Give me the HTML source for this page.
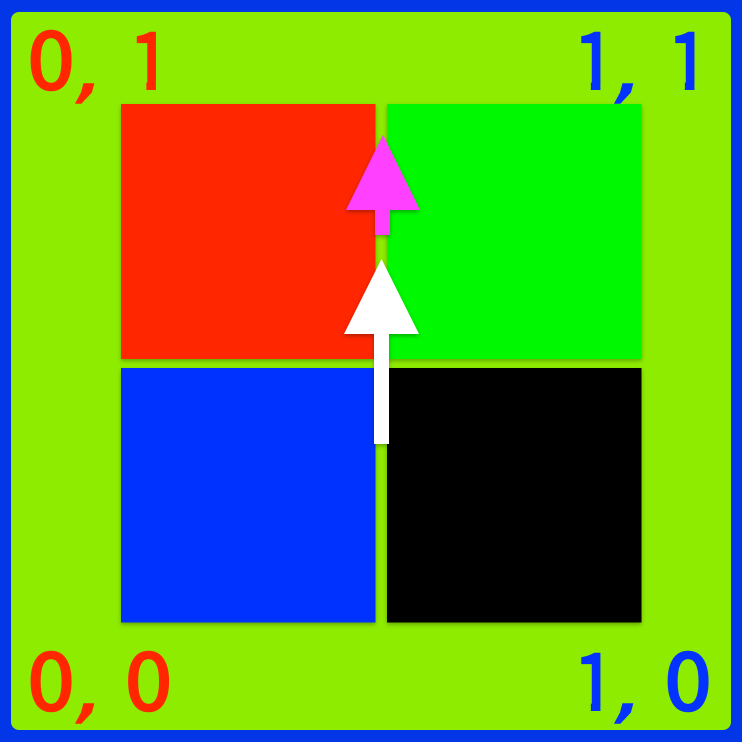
<!DOCTYPE html>
<html lang="en">
<head>
<meta charset="utf-8">
<title>Quadrant diagram</title>
<style>
html,body{margin:0;padding:0;width:742px;height:742px;overflow:hidden;background:#0336e6}
svg{display:block}
text{font-family:"Noto Sans CJK JP","Liberation Sans",sans-serif;font-size:80px;stroke-width:2.5px;stroke-linejoin:miter}
.comma{font-family:"DejaVu Sans",sans-serif;font-weight:bold;font-size:62px;stroke-width:0}
.red{fill:#ff2600;stroke:#ff2600}
.blue{fill:#0433ff;stroke:#0433ff}
</style>
</head>
<body>
<svg xmlns="http://www.w3.org/2000/svg" width="742" height="742" viewBox="0 0 742 742">
<defs>
<filter id="sh" x="-10%" y="-10%" width="120%" height="120%">
<feDropShadow dx="0" dy="2" stdDeviation="2" flood-color="#000" flood-opacity="0.3"/>
</filter>
<clipPath id="one" clipPathUnits="userSpaceOnUse">
<polygon points="8,-62 27.500,-62 27.500,0 18,0 18,-8 8,-8"/>
</clipPath>
</defs>
<rect x="0" y="0" width="742" height="742" fill="#0336e6"/>
<rect x="11" y="12" width="720" height="718" rx="8" ry="8" fill="#8eec00"/>

<g filter="url(#sh)">
<rect x="121" y="104" width="254.500" height="255" fill="#ff2600"/>
<rect x="387" y="104" width="254.500" height="255" fill="#00f900"/>
<rect x="121" y="368" width="254.500" height="254.500" fill="#0433ff"/>
<rect x="387" y="368" width="254.500" height="254.500" fill="#000000"/>
</g>

<g class="red">
<text transform="translate(27.700,89) scale(1.05,1)">0</text>
<text class="comma" transform="translate(74,95) skewX(-15)">,</text>
<text transform="translate(128.400,90)" clip-path="url(#one)">1</text>
</g>
<g class="blue">
<text transform="translate(572.900,90)" clip-path="url(#one)">1</text>
<text class="comma" transform="translate(613,95) skewX(-15)">,</text>
<text transform="translate(666.900,90)" clip-path="url(#one)">1</text>
</g>
<g class="red">
<text transform="translate(27.700,710) scale(1.05,1)">0</text>
<text class="comma" transform="translate(74,715) skewX(-15)">,</text>
<text transform="translate(125.200,710) scale(1.05,1)">0</text>
</g>
<g class="blue">
<text transform="translate(572.900,711)" clip-path="url(#one)">1</text>
<text class="comma" transform="translate(613,715) skewX(-15)">,</text>
<text transform="translate(664.700,710) scale(1.05,1)">0</text>
</g>

<polygon points="383,135 420,210 390,210 390,235 375,235 375,210 346,210" fill="#ff40ff" filter="url(#sh)"/>
<polygon points="381.500,259 419,334 389,334 389,444 374,444 374,334 344,334" fill="#ffffff" filter="url(#sh)"/>
</svg>
</body>
</html>
